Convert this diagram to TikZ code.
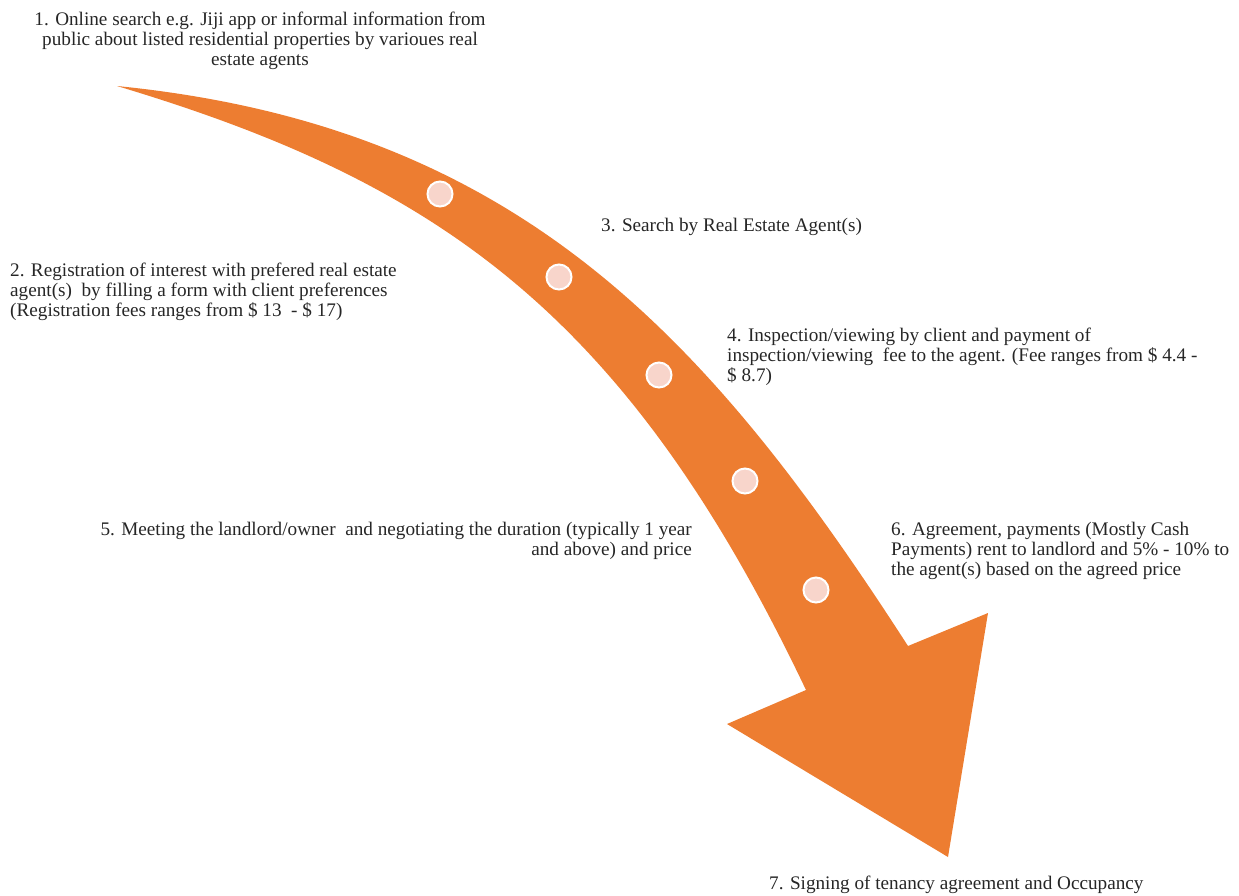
\documentclass[tikz,border=0pt]{standalone}
\usepackage{fontspec}
\setmainfont{Liberation Serif}
\definecolor{arroworange}{HTML}{ED7D31}
\definecolor{dotfill}{HTML}{F8D5CB}
\definecolor{txt}{HTML}{262626}
\begin{document}
\begin{tikzpicture}[x=1pt,y=-1pt,
  lbl/.style={inner sep=0pt, text=txt, font=\fontsize{19.2}{20.3}\selectfont},
  dot/.style={circle, fill=dotfill, draw=white, line width=2pt, minimum size=25pt, inner sep=0pt}]
\useasboundingbox (0,0) rectangle (1239,895);
% curved arrow
\fill[arroworange] (117,86) .. controls (517,126) and (708,336) .. (908,646)
  -- (988,613) -- (948,857) -- (727,724) -- (806,690)
  .. controls (626,312) and (437,182) .. (117,86) -- cycle;
% dots
\node[dot] (d1) at (440,194) {};
\node[dot] (d2) at (559,277) {};
\node[dot] (d3) at (659,375) {};
\node[dot] (d4) at (745,481) {};
\node[dot] (d5) at (816,590) {};
% labels
\node[lbl, align=center, anchor=north] (t1) at (260,11.5) {1. Online search e.g. Jiji app or informal information from\\public about listed residential properties by varioues real\\estate agents};
\node[lbl, align=left, anchor=north west] (t2) at (10,262.5) {2. Registration of interest with prefered real estate\\agent(s)~ by filling a form with client preferences\\(Registration fees ranges from \$ 13~ - \$ 17)};
\node[lbl, align=left, anchor=north west] (t3) at (601,217.5) {3. Search by Real Estate Agent(s)};
\node[lbl, align=left, anchor=north west] (t4) at (727,327.5) {4. Inspection/viewing by client and payment of\\inspection/viewing~ fee to the agent. (Fee ranges from \$ 4.4 -\\\$ 8.7)};
\node[lbl, align=right, anchor=north east] (t5) at (692,521.5) {5. Meeting the landlord/owner~ and negotiating the duration (typically 1 year\\and above) and price};
\node[lbl, align=left, anchor=north west] (t6) at (891,521.5) {6. Agreement, payments (Mostly Cash\\Payments) rent to landlord and 5\% - 10\% to\\the agent(s) based on the agreed price};
\node[lbl, align=left, anchor=north west] (t7) at (769,875.5) {7. Signing of tenancy agreement and Occupancy};
\end{tikzpicture}
\end{document}
